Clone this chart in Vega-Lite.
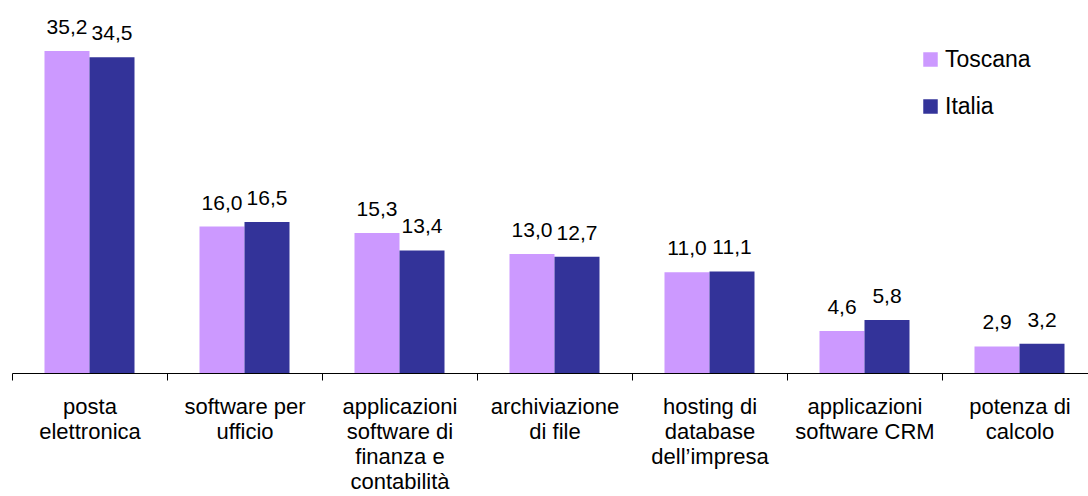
{
  "$schema": "https://vega.github.io/schema/vega-lite/v6.json",
  "width": 1076,
  "height": 366,
  "padding": {"left": 12, "top": 7, "right": 0, "bottom": 123},
  "autosize": {"type": "none"},
  "background": "white",
  "config": {
    "view": {"stroke": null},
    "font": "Liberation Sans"
  },
  "data": {
    "values": [
      {"categoria": "posta elettronica", "area": "Toscana", "valore": 35.2},
      {"categoria": "posta elettronica", "area": "Italia", "valore": 34.5},
      {"categoria": "software per ufficio", "area": "Toscana", "valore": 16.0},
      {"categoria": "software per ufficio", "area": "Italia", "valore": 16.5},
      {"categoria": "applicazioni software di finanza e contabilità", "area": "Toscana", "valore": 15.3},
      {"categoria": "applicazioni software di finanza e contabilità", "area": "Italia", "valore": 13.4},
      {"categoria": "archiviazione di file", "area": "Toscana", "valore": 13.0},
      {"categoria": "archiviazione di file", "area": "Italia", "valore": 12.7},
      {"categoria": "hosting di database dell’impresa", "area": "Toscana", "valore": 11.0},
      {"categoria": "hosting di database dell’impresa", "area": "Italia", "valore": 11.1},
      {"categoria": "applicazioni software CRM", "area": "Toscana", "valore": 4.6},
      {"categoria": "applicazioni software CRM", "area": "Italia", "valore": 5.8},
      {"categoria": "potenza di calcolo", "area": "Toscana", "valore": 2.9},
      {"categoria": "potenza di calcolo", "area": "Italia", "valore": 3.2}
    ]
  },
  "encoding": {
    "x": {
      "field": "categoria",
      "type": "nominal",
      "sort": null,
      "scale": {"range": [0, 1085], "paddingInner": 0, "paddingOuter": 0},
      "axis": {
        "title": null,
        "labelAngle": 0,
        "tickBand": "extent",
        "tickSize": 7,
        "tickColor": "black",
        "domainColor": "black",
        "labelColor": "black",
        "labelFontSize": 22,
        "labelFont": "Liberation Sans",
        "labelPadding": 16,
        "labelLineHeight": 25,
        "labelLimit": 0,
        "labelExpr": "datum.value == 'posta elettronica' ? ['posta', 'elettronica'] : datum.value == 'software per ufficio' ? ['software per', 'ufficio'] : datum.value == 'applicazioni software di finanza e contabilità' ? ['applicazioni', 'software di', 'finanza e', 'contabilità'] : datum.value == 'archiviazione di file' ? ['archiviazione', 'di file'] : datum.value == 'hosting di database dell’impresa' ? ['hosting di', 'database', 'dell’impresa'] : datum.value == 'applicazioni software CRM' ? ['applicazioni', 'software CRM'] : datum.value == 'potenza di calcolo' ? ['potenza di', 'calcolo'] : ''"
      }
    },
    "xOffset": {
      "field": "area",
      "type": "nominal",
      "sort": ["Toscana", "Italia"],
      "scale": {"paddingInner": 0, "paddingOuter": 0.722}
    },
    "y": {
      "field": "valore",
      "type": "quantitative",
      "scale": {"domain": [0, 40]},
      "axis": null
    }
  },
  "layer": [
    {
      "mark": {"type": "bar"},
      "encoding": {
        "color": {
          "field": "area",
          "type": "nominal",
          "sort": ["Toscana", "Italia"],
          "scale": {"domain": ["Toscana", "Italia"], "range": ["#CC99FF", "#333399"]},
          "legend": {
            "title": null,
            "orient": "none",
            "legendX": 907,
            "legendY": 41,
            "padding": 0,
            "symbolType": "square",
            "symbolSize": 210,
            "symbolStrokeWidth": 0,
            "symbolOpacity": 1,
            "labelFontSize": 23,
            "labelFont": "Liberation Sans",
            "labelColor": "black",
            "labelOffset": 3,
            "rowPadding": 23
          }
        }
      }
    },
    {
      "mark": {"type": "text", "baseline": "alphabetic", "dy": -17, "fontSize": 21, "font": "Liberation Sans", "color": "black"},
      "encoding": {
        "text": {"field": "valore", "type": "quantitative", "format": ".1f", "formatType": "number"}
      }
    }
  ],
  "usermeta": {"embedOptions": {"formatLocale": {"decimal": ",", "thousands": ".", "grouping": [3], "currency": ["€", ""]}}}
}
